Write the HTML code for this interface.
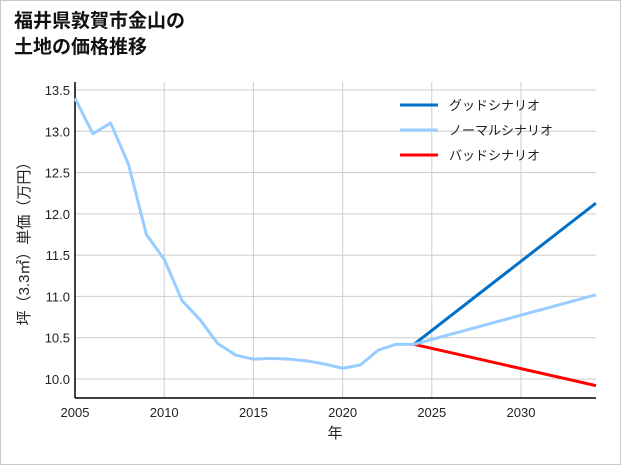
<!DOCTYPE html>
<html><head><meta charset="utf-8"><style>
body{margin:0;background:#fff;}
#wrap{position:relative;width:619px;height:463px;border:1px solid #c8c8c8;background:#fff;overflow:hidden;font-family:"Liberation Sans","Noto Sans CJK JP",sans-serif;}
#title{position:absolute;left:13px;top:8px;font-size:19px;font-weight:bold;line-height:26px;color:#111;}
</style></head><body>
<div id="wrap">
<div id="title">福井県敦賀市金山の<br>土地の価格推移</div>
<svg id="chart" width="621" height="465" style="position:absolute;left:-1px;top:-1px"></svg>
</div>
<script>
const years=[2005,2006,2007,2008,2009,2010,2011,2012,2013,2014,2015,2016,2017,2018,2019,2020,2021,2022,2023,2024];
const prices=[13.4,12.97,13.1,12.6,11.75,11.45,10.95,10.72,10.43,10.29,10.24,10.25,10.24,10.22,10.18,10.13,10.17,10.35,10.42,10.42];
const futureYears=[2024,2034.2];
const goodVals=[10.42,12.13];
const normalVals=[10.42,11.02];
const badVals=[10.42,9.92];
const xTicks=[2005,2010,2015,2020,2025,2030];
const yTicks=[10.0,10.5,11.0,11.5,12.0,12.5,13.0,13.5];
const legendLabels=['グッドシナリオ','ノーマルシナリオ','バッドシナリオ'];
const legendColors=['#0070c8','#99ccff','#ff0000'];

const X0=75,X1=596,Y0=82,Y1=398;
const xs=y=>75+(y-2005)*(521-75)/25;
const ys=v=>379-(v-10)*(379-90)/3.5;
const svg=document.getElementById('chart');
const NS='http://www.w3.org/2000/svg';
function mk(t,a,p){const e=document.createElementNS(NS,t);for(const k in a)e.setAttribute(k,a[k]);(p||svg).appendChild(e);return e;}

xTicks.forEach(t=>{
 const l=mk('line',{x1:xs(t),x2:xs(t),y1:Y0,y2:Y1,stroke:'#cccccc','stroke-width':1});
 
 
 const tx=mk('text',{x:xs(t),y:417,'text-anchor':'middle','font-size':13,fill:'#222'});
 tx.textContent=t;
 
 
});
yTicks.forEach(t=>{
 const l=mk('line',{x1:X0,x2:X1,y1:ys(t),y2:ys(t),stroke:'#cccccc','stroke-width':1});
 
 
 const tx=mk('text',{x:70,y:ys(t)+5,'text-anchor':'end','font-size':13,fill:'#222'});
 tx.textContent=t.toFixed(1);
 
 
});
const ax1=mk('line',{x1:X0,x2:X0,y1:Y0,y2:Y1,stroke:'#000','stroke-width':1.5});


const ax2=mk('line',{x1:X0,x2:X1,y1:Y1,y2:Y1,stroke:'#000','stroke-width':1.5});



function line(xv,yv,c,name){
 const p=mk('polyline',{points:xv.map((x,i)=>xs(x)+','+ys(yv[i])).join(' '),fill:'none',stroke:c,'stroke-width':3,'stroke-linejoin':'round'});
 
 
}
line(futureYears,goodVals,legendColors[0],'good-scenario-line');
line(futureYears,badVals,legendColors[2],'bad-scenario-line');
line(futureYears,normalVals,legendColors[1],'normal-scenario-line');
line(years,prices,legendColors[1],'historical-price-line');

legendLabels.forEach((lab,i)=>{
 const y=105+i*25;
 const l=mk('line',{x1:400,x2:438,y1:y,y2:y,stroke:legendColors[i],'stroke-width':3});
 
 
 const t=mk('text',{x:449,y:y+5,'font-size':13,fill:'#222'});
 t.textContent=lab;
 
 
});
const xt=mk('text',{x:335,y:438,'text-anchor':'middle','font-size':15,fill:'#222'});
xt.textContent='年';


const yt=mk('text',{x:0,y:0,'text-anchor':'middle','font-size':15,fill:'#222',transform:'translate(29,240) rotate(-90)'});
yt.textContent='坪（3.3㎡）単価（万円）';


</script>
</body></html>
